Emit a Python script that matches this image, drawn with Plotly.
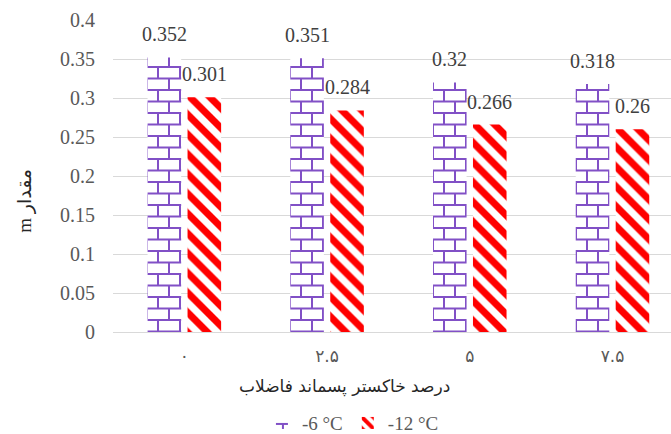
import plotly.graph_objects as go

# Data
categories = ["۰", "۲.۵", "۵", "۷.۵"]
series_names = ["-6 °C", "-12 °C"]
m_minus6 = [0.352, 0.351, 0.32, 0.318]
m_minus12 = [0.301, 0.284, 0.266, 0.26]
y_ticks = [0, 0.05, 0.1, 0.15, 0.2, 0.25, 0.3, 0.35, 0.4]

PURPLE = "#8150C6"
RED = "#FF0000"
TEXT_GREY = "#595959"
LABEL_GREY = "#404040"
GRID = "#D9D9D9"
LATIN = "Liberation Serif, Times New Roman, DejaVu Sans, serif"

BARGAP = 0.44
GROUPGAP = 0.16
slot_offset = (1 - BARGAP) / 4  # centre of each bar relative to its category

fig = go.Figure()
fig.add_trace(go.Bar(
    name=series_names[0], x=categories, y=m_minus6,
    marker=dict(color="#FFFFFF", line=dict(width=0),
                pattern=dict(shape="+", fgcolor=PURPLE, bgcolor="#FFFFFF",
                             size=11, solidity=0.2)),
))
fig.add_trace(go.Bar(
    name=series_names[1], x=categories, y=m_minus12,
    marker=dict(color=RED, line=dict(width=0),
                pattern=dict(shape="\\", fgcolor=RED, bgcolor="#FFFFFF",
                             size=14, solidity=0.5, fillmode="replace")),
))

# Value labels above each bar
annotations = []
for vals, sign in ((m_minus6, -1), (m_minus12, 1)):
    for i, v in enumerate(vals):
        annotations.append(dict(
            x=i + sign * slot_offset, y=v, xref="x", yref="y",
            text=f"{v:g}", showarrow=False, yanchor="bottom", yshift=10,
            font=dict(family=LATIN, size=20, color=LABEL_GREY),
        ))

# Axis titles
annotations.append(dict(
    x=0.414, y=-0.175, xref="paper", yref="paper",
    text="درصد خاکستر پسماند فاضلاب", showarrow=False,
    yanchor="middle", xanchor="center",
    font=dict(family="DejaVu Sans, sans-serif", size=17, color="#262626"),
))
annotations.append(dict(
    x=-0.158, y=0.42, xref="paper", yref="paper",
    text="m مقدار", showarrow=False, textangle=-90,
    xanchor="center", yanchor="middle",
    font=dict(family="Liberation Serif, DejaVu Sans, serif", size=19, color="#262626"),
))

fig.update_layout(
    width=671, height=434,
    margin=dict(l=113, r=0, t=20, b=102, autoexpand=False),
    paper_bgcolor="#FFFFFF", plot_bgcolor="#FFFFFF",
    barmode="group", bargap=BARGAP, bargroupgap=GROUPGAP,
    annotations=annotations,
    showlegend=True,
    legend=dict(orientation="h", x=0.43, xanchor="center",
                y=-0.292, yanchor="middle",
                font=dict(family=LATIN, size=19, color=TEXT_GREY),
                itemwidth=30, tracegroupgap=0),
    font=dict(family=LATIN, color=TEXT_GREY),
)
fig.update_xaxes(
    type="category", range=[-0.5, 3.41], automargin=False,
    showgrid=False, showline=False, zeroline=False, ticks="",
    tickfont=dict(family="DejaVu Sans, sans-serif", size=17, color=TEXT_GREY),
    ticklabelstandoff=12,
)
fig.update_yaxes(
    range=[0, 0.4], tickvals=y_ticks, automargin=False,
    showgrid=True, gridcolor=GRID, gridwidth=1,
    zeroline=True, zerolinecolor=GRID, zerolinewidth=1,
    showline=False, ticks="",
    tickfont=dict(family=LATIN, size=20, color=TEXT_GREY),
    ticklabelstandoff=17,
)

# Brick fill for the -6 °C series (bars and legend swatch)
brick_js = """
var gd = document.getElementById('{plot_id}');
function applyBrick() {
  var ns = 'http://www.w3.org/2000/svg';
  var svg = gd.querySelector('svg.main-svg');
  if (!svg) return;
  var defs = svg.querySelector('defs');
  if (!document.getElementById('brickfill')) {
    var pat = document.createElementNS(ns, 'pattern');
    pat.setAttribute('id', 'brickfill');
    pat.setAttribute('patternUnits', 'userSpaceOnUse');
    pat.setAttribute('width', '22');
    pat.setAttribute('height', '23');
    var bg = document.createElementNS(ns, 'rect');
    bg.setAttribute('width', '22'); bg.setAttribute('height', '23');
    bg.setAttribute('fill', '#ffffff');
    pat.appendChild(bg);
    var ln = document.createElementNS(ns, 'path');
    ln.setAttribute('d', 'M0,1H22M0,12.5H22M1,1V12.5M12,12.5V23');
    ln.setAttribute('stroke', 'BRICK_COLOR');
    ln.setAttribute('stroke-width', '2');
    ln.setAttribute('fill', 'none');
    pat.appendChild(ln);
    defs.appendChild(pat);
  }
  var traces = gd.querySelectorAll('.barlayer .trace');
  if (traces.length) {
    traces[0].querySelectorAll('path').forEach(function (p) { p.style.fill = 'url(#brickfill)'; });
  }
  var leg = gd.querySelectorAll('.legend .traces');
  if (leg.length) {
    leg[0].querySelectorAll('.legendpoints path').forEach(function (p) { p.style.fill = 'url(#brickfill)'; });
  }
}
applyBrick();
gd.on('plotly_afterplot', applyBrick);
setTimeout(applyBrick, 50);
""".replace("BRICK_COLOR", PURPLE)

fig.write_html("out.html", post_script=brick_js)
